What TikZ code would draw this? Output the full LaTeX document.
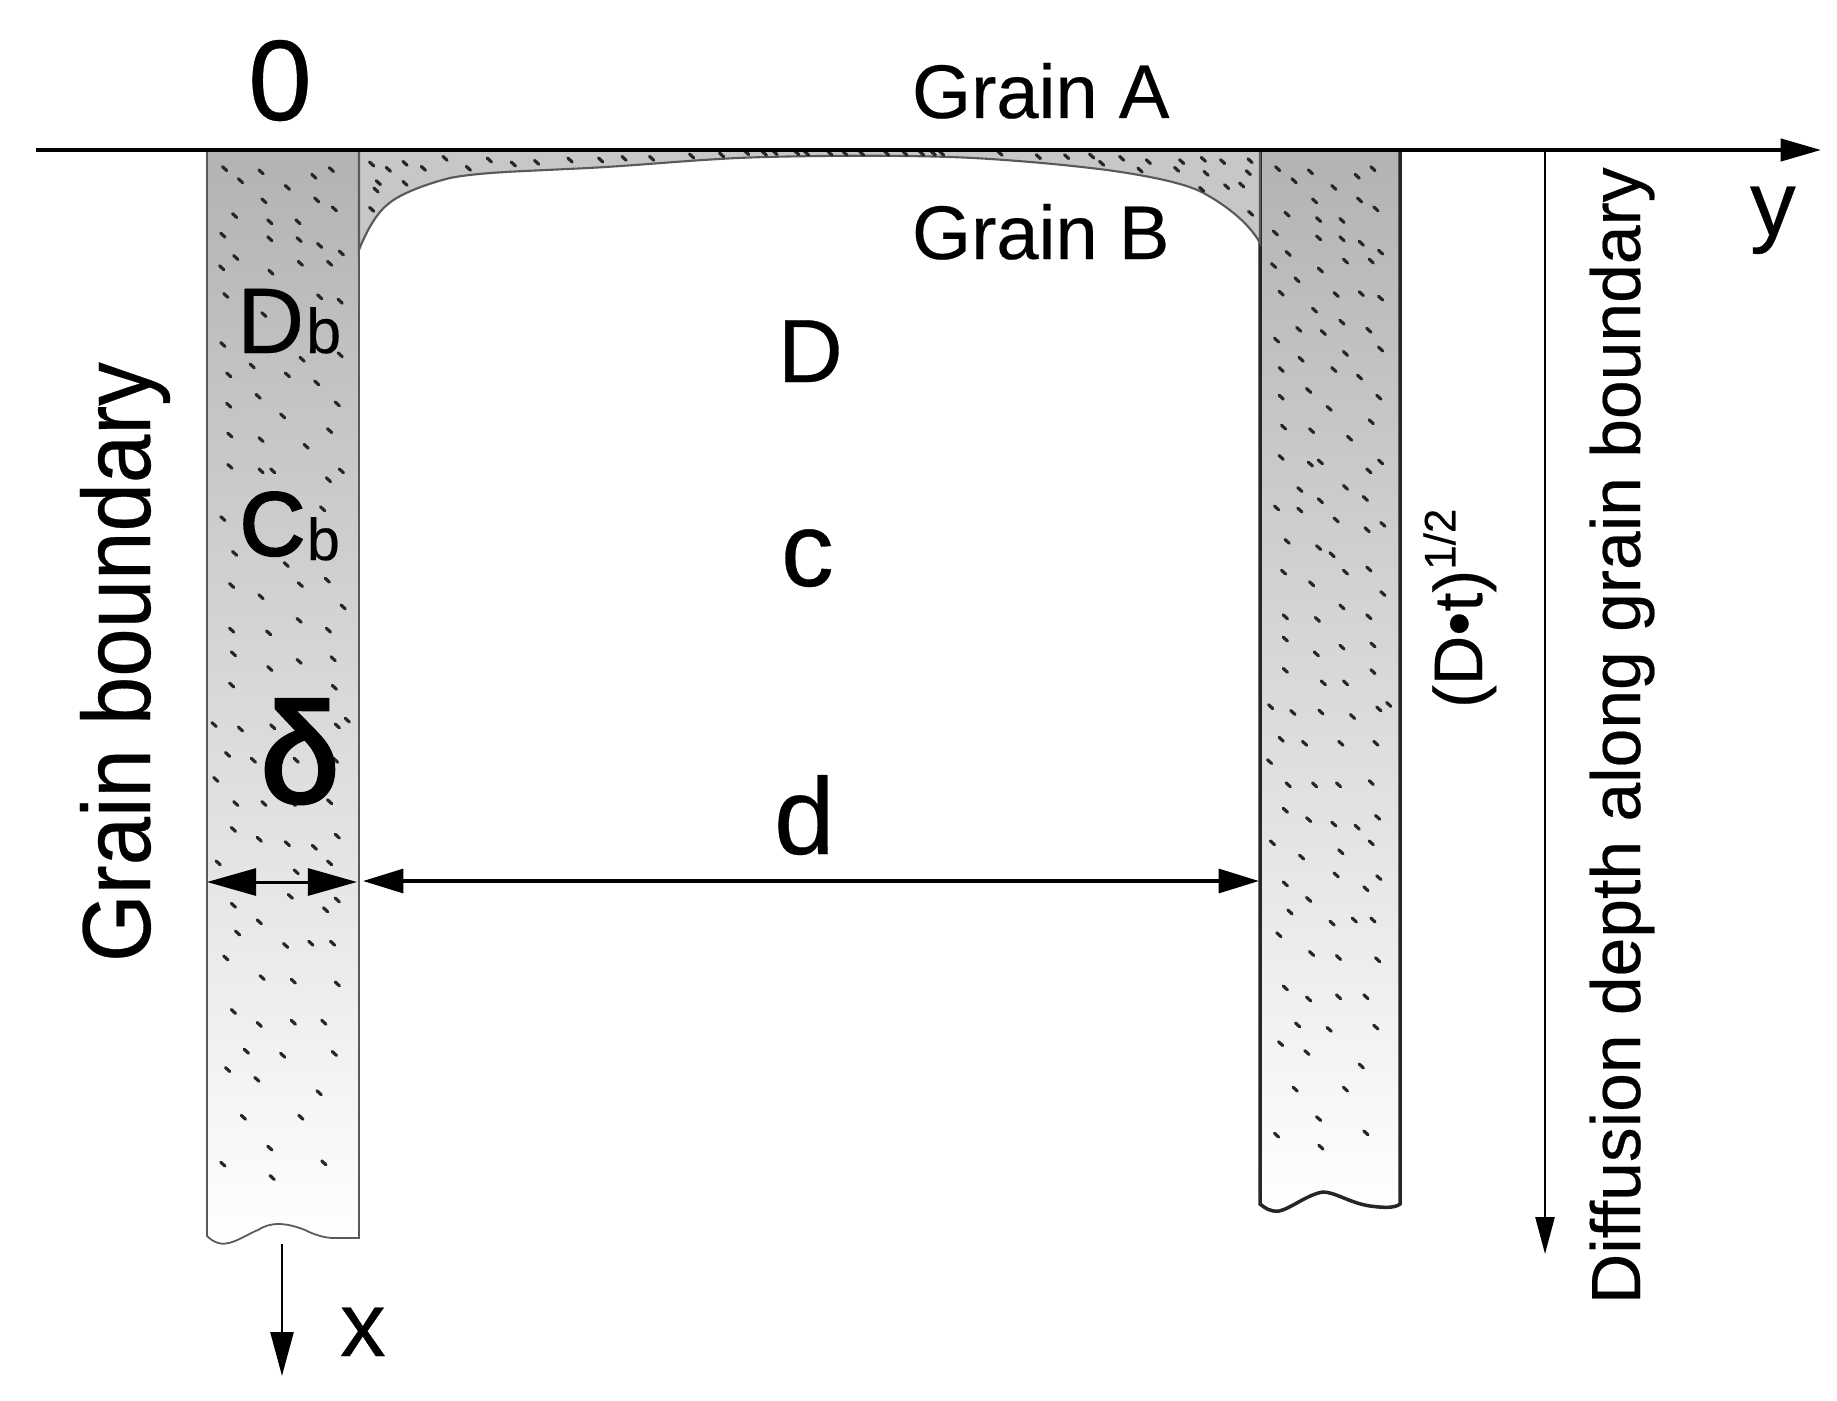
\documentclass[tikz,border=0pt]{standalone}
\usepackage{fontspec}
\setmainfont{Liberation Sans}[FakeBold=0.3]
\newfontfamily\heavyfont{Liberation Sans}[FakeBold=3]
\newfontfamily\narrowfont{Liberation Sans}[FakeBold=0.3,FakeStretch=0.9]
\usetikzlibrary{arrows.meta}

\definecolor{barTop}{gray}{0.70}
\definecolor{layerFill}{gray}{0.78}
\definecolor{edgeGray}{gray}{0.35}

\tikzset{
    label/.style={inner sep=0pt, outer sep=0pt, text=black},
    speck/.style={line width=0.9pt, line cap=round, color=black!85},
    bar/.style={top color=barTop, bottom color=white},
    axisline/.style={line width=1.15pt, -{Triangle[length=11.5pt,width=6.3pt]}},
    gapline/.style={line width=1pt, {Triangle[length=11.5pt,width=6.8pt]}-{Triangle[length=11.5pt,width=6.8pt]}},
    deltaline/.style={line width=0.85pt, {Triangle[length=14pt,width=7.7pt]}-{Triangle[length=14pt,width=7.7pt]}},
    depthline/.style={line width=0.7pt, -{Triangle[length=10.5pt,width=5.4pt]}},
    xline/.style={line width=0.85pt, -{Triangle[length=12.5pt,width=6.5pt]}},
}

\newcommand{\specks}[1]{\foreach \a/\b in {#1} \draw[speck] (\a,\b) ++(-0.6pt,0.55pt) -- ++(1.2pt,-1.1pt);}

\begin{document}
\begin{tikzpicture}[x=0.01cm, y=-0.01cm]
    \useasboundingbox (0,0) rectangle (1837,1400);

    \draw[edgeGray, line width=0.5pt, bar] (207,150) -- (207,1236)
        .. controls (214,1243) and (222,1245) .. (229,1243)
        .. controls (240,1240) and (250,1233) .. (258,1230)
        .. controls (270,1222) and (285,1222) .. (305,1230)
        .. controls (315,1235) and (325,1238) .. (334,1238)
        -- (359,1238) -- (359,150) -- cycle;
    \draw[black!85, line width=1pt, bar] (1260,150) -- (1260,1204)
        .. controls (1265,1208) and (1270,1212) .. (1279,1211)
        .. controls (1290,1209) and (1308,1194) .. (1323,1192)
        .. controls (1335,1192) and (1350,1203) .. (1370,1206)
        .. controls (1385,1208) and (1395,1208) .. (1400,1204)
        -- (1400,150) -- cycle;

    \draw[edgeGray, line width=0.6pt, fill=layerFill] (359,250)
        .. controls (366,232) and (376,214) .. (387,205)
        .. controls (400,193) and (430,183) .. (450,178)
        .. controls (480,172) and (530,171) .. (567,169)
        .. controls (620,167) and (680,161) .. (720,159)
        .. controls (760,156) and (900,154) .. (973,158)
        .. controls (1010,160) and (1060,164) .. (1107,170)
        .. controls (1150,176) and (1190,184) .. (1207,195)
        .. controls (1230,208) and (1250,225) .. (1260,243)
        -- (1260,150) -- (359,150) -- cycle;

    \begin{scope}[x={0.01cm/1.704}, y={-0.01cm/2.24}]
        \specks{383/378,410/405,445/385,565/380,535/395,490/420,450/450,540/448,570/468,400/483,460/497,508/497,380/527,460/535,510/537,545/550,582/567,402/577,512/590,562/590,378/600,462/610,385/662,545/665,580/675,450/705,505/735,380/772,580/795,515/805,430/820,390/840,490/840,540/858,440/888,390/908,575/905,482/932,392/975,445/985,562/965,522/1000,392/1045,445/1055,465/1055,582/1055,560/1075,380/1162,550/1140,400/1240,488/1265,395/1312,445/1337,512/1310,558/1300,585/1360,395/1412,458/1418,510/1390,560/1412,398/1465,460/1498,510/1482,568/1476,395/1535,570/1540}
    \end{scope}
    \begin{scope}[shift={(0,700)}, x={0.01cm/1.704}, y={-0.01cm/2.24}]
        \specks{365/55,410/65,465/60,575/58,592/45,388/122,432/135,505/135,572/135,368/178,402/232,450/232,500/232,562/228,398/290,442/312,490/322,536/330,575/305,372/365,505/385,562/365,575/448,495/440,555/470,398/460,442/497,405/522,487/550,530/545,567/545,385/578,447/622,500/630,575/636,398/698,442/727,500/722,552/722,420/787,482/796,570/792,388/828,438/850,544/880,415/935,513/935,460/1004,552/1037,380/1040,464/1070}
    \end{scope}
    \begin{scope}[shift={(920,0)}, x={0.01cm/1.71}, y={-0.01cm/2.24}]
        \specks{612/378,640/405,668/385,775/378,748/395,708/420,675/450,752/448,780/468,628/480,682/492,722/494,608/522,682/533,722/535,755/545,788/565,630/568,728/585,772/585,605/595,685/605,645/627,618/657,712/660,755/658,788/668,675/695,722/722,648/738,690/745,768/740,610/762,788/782,728/792,652/805,618/828,708/828,752/845,665/875,618/890,785/890,700/915,622/957,670/965,772/945,735/982,618/1025,668/1040,685/1035,788/1035,768/1055,728/1092,650/1097,685/1122,762/1117,610/1138,650/1143,712/1165,765/1187,792/1175,628/1213,682/1227,705/1243,622/1282,670/1308,728/1282,768/1275,792/1330,722/1360,625/1382,680/1388,768/1382,625/1432,678/1465,722/1450,775/1445,625/1502,690/1530,728/1530,775/1505}
    \end{scope}
    \begin{scope}[shift={(920,700)}, x={0.01cm/1.71}, y={-0.01cm/2.24}]
        \specks{600/15,638/28,686/27,740/37,785/20,802/10,618/88,658/97,720/97,780/97,598/138,630/190,675/190,716/190,772/185,625/247,665/268,708/278,748/285,783/263,603/320,772/320,653/352,720/340,712/392,785/398,763/423,625/412,665/447,633/475,705/500,743/493,775/493,614/526,670/568,716/577,783/582,625/645,665/670,716/665,763/665,646/728,700/738,780/733,617/770,662/790,755/820,642/872,728/872,682/938,763/970,610/975,686/1002}
    \end{scope}
    \begin{scope}[shift={(350,140)}, x={0.01cm/3}, y={-0.01cm/3}]
        \specks{65/72,115/88,165/70,220/85,285/55,355/85,418/60,490/72,560/67,660/60,752/60,822/55,905/55,1025/48,1115/45,1190/38,1243/40,1275/38,1340/38,85/128,78/150,165/130,65/208}
    \end{scope}
    \begin{scope}[shift={(800,140)}, x={0.01cm/3}, y={-0.01cm/3}]
        \specks{20/40,90/40,135/40,185/40,260/40,315/40,365/40,400/40,425/40,600/40,715/50,800/50,875/48,905/70,965/55,1045/65,1020/90,1145/65,1130/88,1210/58,1268/65,1350/62,1345/98,1218/100,1205/148,1280/140,1325/135,1352/220}
    \end{scope}

    \coordinate (yStart) at (36,150);
    \coordinate (yEnd) at (1821,150);
    \coordinate (depthStart) at (1545,150);
    \coordinate (depthEnd) at (1545,1254);
    \coordinate (xStart) at (282,1244);
    \coordinate (xEnd) at (282,1376);
    \coordinate (gapLeft) at (363,881);
    \coordinate (gapRight) at (1259,881);
    \coordinate (deltaLeft) at (207,882);
    \coordinate (deltaRight) at (357,882);

    \draw[axisline] (yStart) -- (yEnd);
    \draw[depthline] (depthStart) -- (depthEnd);
    \draw[xline] (xStart) -- (xEnd);
    \draw[gapline] (gapLeft) -- (gapRight);
    \draw[deltaline] (deltaLeft) -- (deltaRight);

    \node[label, anchor=base, font=\fontsize{32.6}{32.6}\selectfont] (zero) at (280,120) {0};
    \node[label, anchor=base west, font=\fontsize{21.6}{21.6}\selectfont] (grainA) at (912,118) {Grain A};
    \node[label, anchor=base west, font=\fontsize{21.6}{21.6}\selectfont] (grainB) at (912,259) {Grain B};
    \node[label, anchor=base west, font=\fontsize{26}{26}\selectfont] (yLabel) at (1750,235) {y};
    \node[label, anchor=base west, font=\fontsize{26}{26}\selectfont] (xLabel) at (340,1356) {x};
    \node[label, anchor=base west, rotate=90, font=\narrowfont\fontsize{27.5}{27.5}\selectfont] (boundaryLabel) at (150,962) {Grain boundary};
    \node[label, anchor=base west, rotate=90, font=\fontsize{19.8}{19.8}\selectfont] (depthLabel) at (1640,1304) {Diffusion depth along grain boundary};
    \node[label, anchor=base west, rotate=90, font=\fontsize{19.5}{19.5}\selectfont] (rootLabel) at (1482,708) {(D•t)\raisebox{7.6pt}{\fontsize{12.5}{12.5}\selectfont 1/2}};
    \node[label, anchor=base west, font=\fontsize{25.5}{25.5}\selectfont] (dLabel) at (778,382) {D};
    \node[label, anchor=base west, font=\fontsize{30}{30}\selectfont] (cLabel) at (781,586) {c};
    \node[label, anchor=base west, font=\fontsize{31}{31}\selectfont] (distLabel) at (774,854) {d};
    \node[label, anchor=base west, font=\fontsize{26.5}{26.5}\selectfont] (dbLabel) at (237,353) {D};
    \node[label, anchor=base west, font=\fontsize{18}{18}\selectfont] (dbSub) at (306,353) {b};
    \node[label, anchor=base west, font=\heavyfont\fontsize{25.5}{25.5}\selectfont] (cbLabel) at (240,555) {C};
    \node[label, anchor=base west, font=\fontsize{16.8}{16.8}\selectfont] (cbSub) at (307,560) {b};
    \node[label, anchor=base, font=\heavyfont\fontsize{40}{40}\selectfont] (deltaLabel) at (300,802) {δ};
\end{tikzpicture}
\end{document}
